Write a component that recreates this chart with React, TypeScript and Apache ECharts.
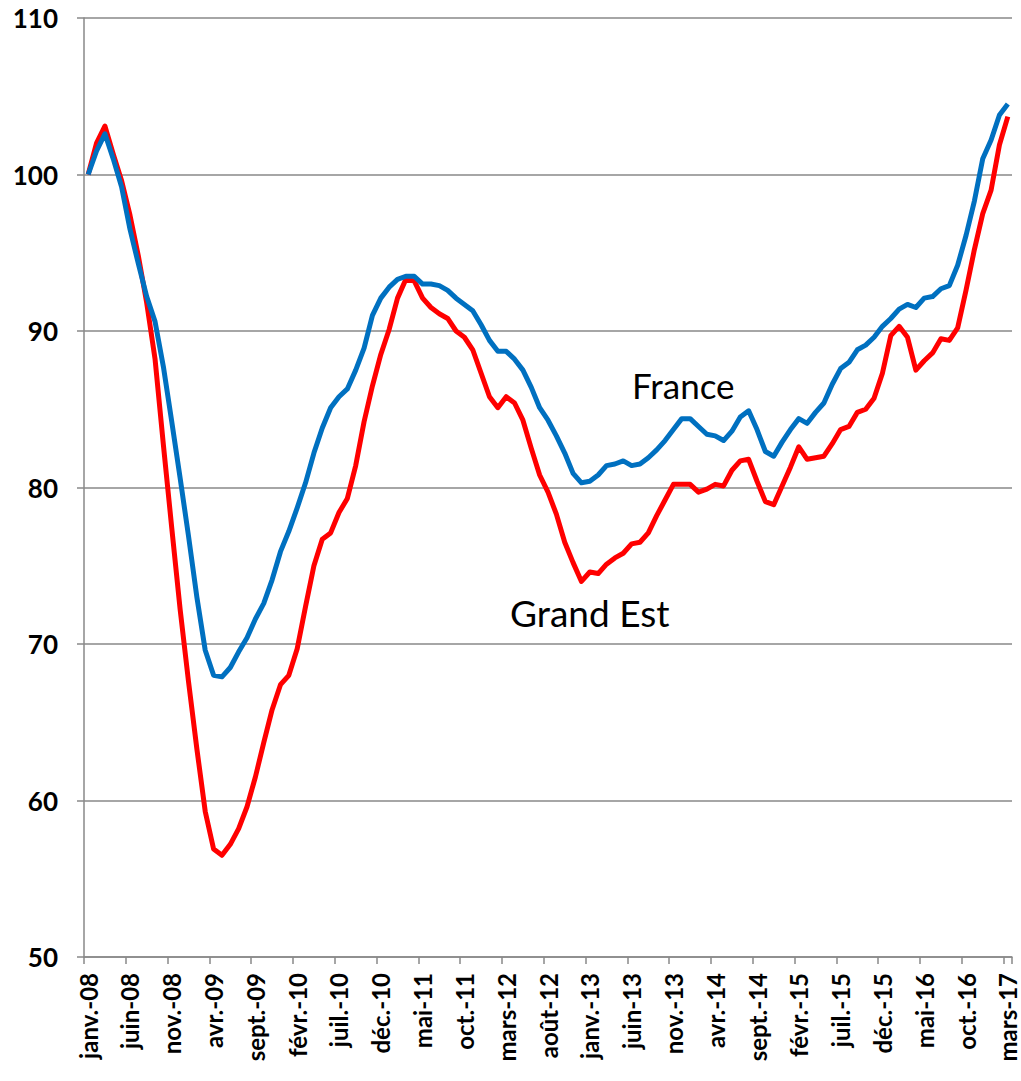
import React, { useEffect, useRef } from "react";
import * as echarts from "echarts";

const MONTHS = ["janv.", "févr.", "mars", "avr.", "mai", "juin", "juil.", "août", "sept.", "oct.", "nov.", "déc."];
const YEARS = ["08", "09", "10", "11", "12", "13", "14", "15", "16", "17"];
const N_POINTS = 111;

const CATEGORIES: string[] = [];
YEARS.forEach((y) => MONTHS.forEach((m) => CATEGORIES.push(`${m}-${y}`)));
CATEGORIES.length = N_POINTS;

const FRANCE = [
  100, 101.5, 102.6, 101.0, 99.2, 96.5, 94.3, 92.2, 90.6, 87.7,
  84.2, 80.6, 76.9, 73.0, 69.6, 68.0, 67.9, 68.5, 69.5, 70.4,
  71.6, 72.6, 74.1, 75.9, 77.2, 78.7, 80.3, 82.2, 83.8, 85.1,
  85.8, 86.3, 87.5, 88.9, 91.0, 92.1, 92.8, 93.3, 93.5, 93.5,
  93.0, 93.0, 92.9, 92.6, 92.1, 91.7, 91.3, 90.4, 89.4, 88.7,
  88.7, 88.2, 87.5, 86.4, 85.1, 84.3, 83.3, 82.2, 80.9, 80.3,
  80.4, 80.8, 81.4, 81.5, 81.7, 81.4, 81.5, 81.9, 82.4, 83.0,
  83.7, 84.4, 84.4, 83.9, 83.4, 83.3, 83.0, 83.6, 84.5, 84.9,
  83.7, 82.3, 82.0, 82.9, 83.7, 84.4, 84.1, 84.8, 85.4, 86.6,
  87.6, 88.0, 88.8, 89.1, 89.6, 90.3, 90.8, 91.4, 91.7, 91.5,
  92.1, 92.2, 92.7, 92.9, 94.2, 96.1, 98.3, 101.0, 102.2, 103.8,
  104.5,
];

const GRAND_EST = [
  100, 102.0, 103.1, 101.3, 99.6, 97.4, 94.8, 91.8, 88.2, 82.7,
  77.4, 72.2, 67.6, 63.3, 59.3, 56.9, 56.5, 57.2, 58.2, 59.6,
  61.5, 63.7, 65.8, 67.4, 68.0, 69.7, 72.4, 75.0, 76.7, 77.1,
  78.4, 79.3, 81.4, 84.2, 86.5, 88.5, 90.1, 92.1, 93.3, 93.2,
  92.1, 91.5, 91.1, 90.8, 90.0, 89.6, 88.8, 87.3, 85.8, 85.1,
  85.8, 85.4, 84.3, 82.5, 80.8, 79.7, 78.3, 76.5, 75.2, 74.0,
  74.6, 74.5, 75.1, 75.5, 75.8, 76.4, 76.5, 77.1, 78.2, 79.2,
  80.2, 80.2, 80.2, 79.7, 79.9, 80.2, 80.1, 81.1, 81.7, 81.8,
  80.4, 79.1, 78.9, 80.1, 81.3, 82.6, 81.8, 81.9, 82.0, 82.8,
  83.7, 83.9, 84.8, 85.0, 85.7, 87.3, 89.7, 90.3, 89.6, 87.5,
  88.1, 88.6, 89.5, 89.4, 90.2, 92.6, 95.2, 97.5, 99.0, 101.9,
  103.7,
];

const Y_MIN = 50;
const Y_MAX = 110;
const Y_STEP = 10;

const FONT = "Lato, 'Noto Sans', sans-serif";
const GRID_COLOR = "#898989";

export default function App() {
  const ref = useRef<HTMLDivElement>(null);

  useEffect(() => {
    if (!ref.current) return;
    const chart = echarts.init(ref.current, null, { renderer: "svg" });
    chart.setOption({
      animation: false,
      backgroundColor: "#ffffff",
      grid: { left: 84, right: 9, top: 18, bottom: 124, containLabel: false },
      xAxis: {
        type: "category",
        data: CATEGORIES,
        boundaryGap: true,
        axisLine: { show: true, lineStyle: { color: GRID_COLOR, width: 1.5 } },
        axisTick: { show: true, interval: 4, length: 7, lineStyle: { color: GRID_COLOR, width: 1.5 } },
        axisLabel: {
          interval: 4,
          rotate: 90,
          margin: 16,
          color: "#000",
          fontFamily: FONT,
          fontWeight: "bold",
          fontSize: 24,
          lineHeight: 20,
        },
        splitLine: { show: false },
      },
      yAxis: {
        type: "value",
        min: Y_MIN,
        max: Y_MAX,
        interval: Y_STEP,
        axisLine: { show: true, lineStyle: { color: GRID_COLOR, width: 1.5 } },
        axisTick: { show: true, length: 7, lineStyle: { color: GRID_COLOR, width: 1.5 } },
        axisLabel: {
          margin: 26,
          color: "#000",
          fontFamily: FONT,
          fontWeight: "bold",
          fontSize: 26,
        },
        splitLine: { show: true, lineStyle: { color: GRID_COLOR, width: 1.5 } },
      },
      series: [
        {
          name: "Grand Est",
          type: "line",
          data: GRAND_EST,
          symbol: "none",
          smooth: false,
          lineStyle: { color: "#FF0000", width: 5, join: "round" },
          z: 2,
        },
        {
          name: "France",
          type: "line",
          data: FRANCE,
          symbol: "none",
          smooth: false,
          lineStyle: { color: "#0070C0", width: 5, join: "round" },
          z: 3,
        },
      ],
      graphic: [
        {
          type: "text",
          x: 632,
          y: 385,
          style: { text: "France", fontFamily: FONT, fontSize: 35, fill: "#000", verticalAlign: "middle" },
        },
        {
          type: "text",
          x: 510,
          y: 612,
          style: { text: "Grand Est", fontFamily: FONT, fontSize: 37, fill: "#000", verticalAlign: "middle" },
        },
      ],
    });
    return () => chart.dispose();
  }, []);

  return (
    <div
      ref={ref}
      style={{ position: "fixed", left: 0, top: 0, width: 1021, height: 1081, background: "#fff" }}
    />
  );
}
